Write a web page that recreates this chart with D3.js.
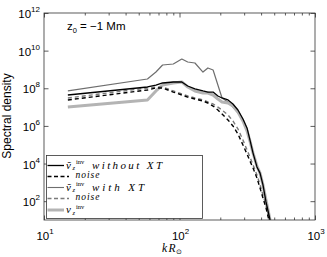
<!DOCTYPE html>
<html><head><meta charset="utf-8">
<script src="https://cdn.jsdelivr.net/npm/d3@7"></script>
<style>
html,body{margin:0;padding:0;background:#fff;}
svg{display:block;}
</style></head>
<body>
<svg id="c" width="327" height="257"></svg>
<script>
// wavenumber k R_sun
const kValues = [15, 58, 67, 75, 90, 104, 115, 130, 149, 162, 177, 192, 206, 228, 248, 270, 294, 315, 331, 349, 373, 393, 413, 435, 466];
// v_z inv without XT (black solid)
const withoutXT = [4.4e7, 1.17e8, 1.49e8, 1.91e8, 2.16e8, 2.16e8, 1.32e8, 9.2e7, 7.2e7, 6.3e7, 6.3e7, 3.9e7, 3.05e7, 2.4e7, 1.46e7, 7.0e6, 2.33e6, 7.8e5, 1.79e5, 3.6e4, 6.6e3, 3.1e3, 730, 91, 10];
// noise (black dashed)
const noiseWithout = [2.4e7, 8.1e7, 1.04e8, 1.04e8, 6.3e7, 4.4e7, 3.4e7, 2.7e7, 2.1e7, 1.65e7, 1.14e7, 7.0e6, 4.3e6, 2.07e6, 9.9e5, 3.7e5, 9.7e4, 3.2e4, 1.37e4, 5.8e3, 1.7e3, 500, 148, 44, 5.4];
// v_z inv with XT (gray thin)
const withXT = [7.2e7, 3.1e8, 7.3e8, 1.73e9, 1.95e9, 3.6e9, 2.49e9, 2.2e9, 7.3e8, 1.2e9, 9.4e8, 1.49e8, 3.05e7, 1.87e7, 1.0e7, 4.9e6, 2.07e6, 6.1e5, 1.79e5, 3.6e4, 6.6e3, 3.1e3, 730, 91, 10];
// noise (gray dashed)
const noiseWith = [3.05e7, 1.04e8, 1.17e8, 1.17e8, 7.2e7, 5.0e7, 3.9e7, 3.05e7, 2.4e7, 1.87e7, 1.46e7, 1.0e7, 7.0e6, 3.8e6, 1.83e6, 6.9e5, 1.79e5, 5.3e4, 2.2e4, 8.4e3, 2.5e3, 730, 213, 63, 7.9];
// v_z inv (thick light gray)
const vzInv = [1.0e7, 2.4e7, 7.2e7, 1.49e8, 1.91e8, 2.16e8, 1.17e8, 7.2e7, 5.6e7, 5.6e7, 4.4e7, 2.7e7, 1.87e7, 1.65e7, 1.14e7, 5.5e6, 1.83e6, 5.4e5, 1.58e5, 3.6e4, 7.4e3, 3.1e3, 730, 116, 10];

const xTickExp = [1, 2, 3];
const yTickExp = [2, 4, 6, 8, 10, 12];

const svg = d3.select("#c");
const L = 44, R = 315, T = 13, B = 220;
const x = d3.scaleLog().domain([10, 1000]).range([L, R]);
const y = d3.scaleLog().domain([10, 1e12]).range([B, T]);

svg.append("defs").append("clipPath").attr("id", "clip")
  .append("rect").attr("x", L).attr("y", T).attr("width", R - L).attr("height", B - T);

const frameColor = "#333";
const minorX = [];
for (let d = 10; d < 1000; d *= 10) for (let m = 2; m <= 9; m++) minorX.push(d * m);
const majorX = xTickExp.map(e => Math.pow(10, e));
const majorY = yTickExp.map(e => Math.pow(10, e));

function styleAxis(g) {
  g.select(".domain").remove();
  g.selectAll("line").attr("stroke", frameColor).attr("stroke-width", 0.8);
}
svg.append("g").attr("transform", `translate(0,${B})`)
  .call(d3.axisBottom(x).tickValues(minorX).tickSize(-2.5).tickFormat("")).call(styleAxis);
svg.append("g").attr("transform", `translate(0,${T})`)
  .call(d3.axisTop(x).tickValues(minorX).tickSize(-2.5).tickFormat("")).call(styleAxis);
svg.append("g").attr("transform", `translate(0,${B})`)
  .call(d3.axisBottom(x).tickValues(majorX).tickSize(-4.5).tickFormat("")).call(styleAxis);
svg.append("g").attr("transform", `translate(0,${T})`)
  .call(d3.axisTop(x).tickValues(majorX).tickSize(-4.5).tickFormat("")).call(styleAxis);
svg.append("g").attr("transform", `translate(${L},0)`)
  .call(d3.axisLeft(y).tickValues(majorY).tickSize(-4.5).tickFormat("")).call(styleAxis);
svg.append("g").attr("transform", `translate(${R},0)`)
  .call(d3.axisRight(y).tickValues(majorY).tickSize(-4.5).tickFormat("")).call(styleAxis);

// tick labels
const tickFont = "'Liberation Sans', Arial, Helvetica, sans-serif";
const xl = svg.append("g").attr("font-family", tickFont).attr("fill", "#000");
xTickExp.forEach(e => {
  const t = xl.append("text").attr("x", x(Math.pow(10, e)) + 1).attr("y", 240).attr("text-anchor", "middle").attr("font-size", 11.5);
  t.append("tspan").text("10");
  t.append("tspan").attr("font-size", 8).attr("dy", -6).text(e);
});
yTickExp.forEach(e => {
  const t = xl.append("text").attr("x", 40).attr("y", y(Math.pow(10, e)) + 5).attr("text-anchor", "end").attr("font-size", 11.5);
  t.append("tspan").text("10");
  t.append("tspan").attr("font-size", 8).attr("dy", -6).text(e);
});

// axis titles
svg.append("text").attr("transform", `translate(11,116) rotate(-90)`).attr("text-anchor", "middle")
  .attr("font-family", tickFont).attr("font-size", 12).text("Spectral density");
const serif = "'Liberation Serif', 'Times New Roman', serif";
const xt = svg.append("text").attr("x", 162).attr("y", 252).attr("font-family", serif).attr("font-size", 11.5);
xt.append("tspan").attr("font-style", "italic").text("k");
xt.append("tspan").attr("font-style", "italic").attr("dx", 1.5).text("R");
xt.append("tspan").attr("font-size", 7).attr("dy", 2).text("⊙");

// annotation
const an = svg.append("text").attr("x", 67).attr("y", 30).attr("font-family", tickFont).attr("font-size", 11.5);
an.append("tspan").text("z");
an.append("tspan").attr("font-size", 7.5).attr("dy", 3).text("0");
an.append("tspan").attr("dy", -3).text(" = \u22121 Mm");

// series
const series = [
  {vals: withXT, color: "#6e6e6e", w: 1.2, dash: null},
  {vals: vzInv, color: "#b4b4b4", w: 3, dash: null},
  {vals: noiseWith, color: "#7a7a7a", w: 1.4, dash: "4,3"},
  {vals: noiseWithout, color: "#000", w: 1.4, dash: "4,3"},
  {vals: withoutXT, color: "#000", w: 1.3, dash: null}
];
const line = d3.line().x(d => x(d[0])).y(d => y(d[1]));
const pg = svg.append("g").attr("clip-path", "url(#clip)");
series.forEach(s => {
  pg.append("path").datum(kValues.map((k, i) => [k, s.vals[i]]))
    .attr("d", line).attr("fill", "none").attr("stroke", s.color)
    .attr("stroke-width", s.w).attr("stroke-dasharray", s.dash).attr("stroke-linejoin", "round");
});

// frame
svg.append("rect").attr("x", L).attr("y", T).attr("width", R - L).attr("height", B - T)
  .attr("fill", "none").attr("stroke", frameColor).attr("stroke-width", 0.8);

// legend
const lg = svg.append("g");
lg.append("rect").attr("x", 46.5).attr("y", 155.5).attr("width", 156).attr("height", 63)
  .attr("fill", "#fff").attr("stroke", frameColor).attr("stroke-width", 0.8);
const legendItems = [
  {color: "#000", w: 1.3, dash: null, x2: 64, sym: "\u1E7D", label: "without XT", len: 70, ly: 165.5},
  {color: "#000", w: 1.3, dash: "4,2.5", x2: 69, sym: null, label: "noise", len: 24, ly: 176.5},
  {color: "#6e6e6e", w: 1.1, dash: null, x2: 64, sym: "\u1E7D", label: "with XT", len: 52, ly: 187.5},
  {color: "#7a7a7a", w: 1.3, dash: "4,2.5", x2: 69, sym: null, label: "noise", len: 24, ly: 198.5},
  {color: "#b4b4b4", w: 3, dash: null, x2: 64, sym: "v", label: null, len: 0, ly: 210}
];
legendItems.forEach(it => {
  lg.append("line").attr("x1", 47.5).attr("x2", it.x2).attr("y1", it.ly).attr("y2", it.ly)
    .attr("stroke", it.color).attr("stroke-width", it.w).attr("stroke-dasharray", it.dash);
  if (it.sym) {
    lg.append("text").attr("x", 66).attr("y", it.ly + 3).attr("font-family", serif)
      .attr("font-style", "italic").attr("font-size", 11).text(it.sym);
    lg.append("text").attr("x", 76).attr("y", it.ly - 1.5).attr("font-family", serif)
      .attr("font-size", 6.5).text("inv");
    lg.append("text").attr("x", 72.5).attr("y", it.ly + 4.5).attr("font-family", serif)
      .attr("font-style", "italic").attr("font-size", 6.5).text("z");
    if (it.label) {
      lg.append("text").attr("x", 92).attr("y", it.ly + 3.5).attr("font-family", serif)
        .attr("font-style", "italic").attr("font-size", 11)
        .attr("textLength", it.len).attr("lengthAdjust", "spacing").text(it.label);
    }
  } else {
    lg.append("text").attr("x", 75.5).attr("y", it.ly + 1.5).attr("font-family", serif)
      .attr("font-style", "italic").attr("font-size", 9.5)
      .attr("textLength", it.len).attr("lengthAdjust", "spacing").text(it.label);
  }
});
</script>
</body></html>
